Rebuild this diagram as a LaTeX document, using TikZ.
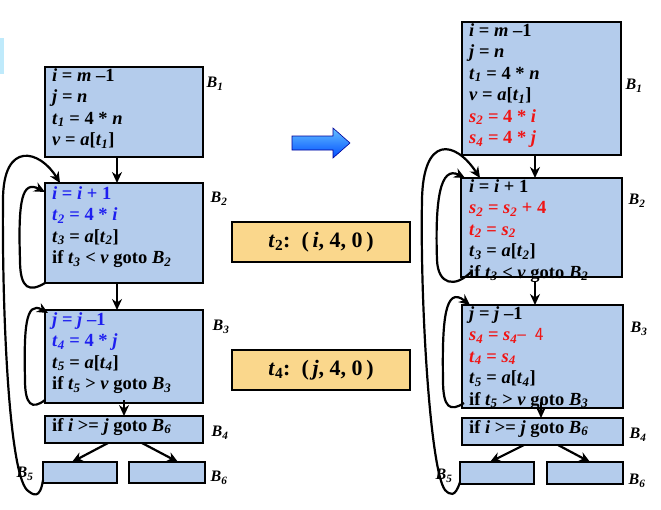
\documentclass[tikz,border=0pt]{standalone}
\usepackage{fontspec}
\setmainfont{Liberation Serif}
\usetikzlibrary{arrows.meta}
\newcommand\iv[1]{\textit{#1}}
\newcommand\ssub[1]{\textsubscript{\textit{#1}}}
\definecolor{boxblue}{RGB}{180,204,236}
\definecolor{ylw}{RGB}{250,215,140}
\definecolor{tblue}{RGB}{30,30,240}
\definecolor{tred}{RGB}{240,20,20}
\begin{document}
\begin{tikzpicture}[x=1pt,y=-1pt,
  blk/.style={draw,line width=2.6pt,fill=boxblue},
  txt/.style={anchor=north west,font=\bfseries\fontsize{18.5}{21.5}\selectfont,align=left,inner sep=0pt},
  lab/.style={font=\bfseries\itshape\fontsize{16}{17}\selectfont,inner sep=0pt},
  arr/.style={line width=2.2pt,-{Stealth[length=11pt,width=10pt]}},
  yb/.style={draw,line width=1.2pt,fill=ylw,font=\bfseries\fontsize{22}{24}\selectfont}]
\useasboundingbox (0,0) rectangle (661,509);
\fill[cyan!25] (0,38) rectangle (4,74);
% ---------- left ----------
\draw[blk] (45,67) rectangle (203,157);
\node[txt] (l1) at (52,68) {\iv{i} = \iv{m} –1\\\iv{j} = \iv{n}\\\iv{t}\ssub{1} = 4 * \iv{n}\\\iv{v} = \iv{a}[\iv{t}\ssub{1}]};
\draw[blk] (45,183) rectangle (203,283);
\node[txt] (l2) at (52,186) {\color{tblue}\iv{i} = \iv{i} + 1\\\color{tblue}\iv{t}\ssub{2} = 4 * \iv{i}\\\iv{t}\ssub{3} = \iv{a}[\iv{t}\ssub{2}]\\if \iv{t}\ssub{3} < \iv{v} goto \iv{B}\ssub{2}};
\draw[blk] (45,310) rectangle (203,403);
\node[txt] (l3) at (52,312) {\color{tblue}\iv{j} = \iv{j} –1\\\color{tblue}\iv{t}\ssub{4} = 4 * \iv{j}\\\iv{t}\ssub{5} = \iv{a}[\iv{t}\ssub{4}]\\if \iv{t}\ssub{5} > \iv{v} goto \iv{B}\ssub{3}};
\draw[blk] (45,416) rectangle (203,443);
\node[txt] (l4) at (52,418) {if \iv{i} >= \iv{j} goto \iv{B}\ssub{6}};
\draw[blk] (43,462) rectangle (117,483);
\draw[blk] (129,462) rectangle (205,483);
\node[lab] (lb1) at (215,84) {B\textsubscript{1}};
\node[lab] (lb2) at (219,199) {B\textsubscript{2}};
\node[lab] (lb3) at (221,327) {B\textsubscript{3}};
\node[lab] (lb4) at (220,433) {B\textsubscript{4}};
\node[lab] (lb5) at (25,474) {B\textsubscript{5}};
\node[lab] (lb6) at (219,478) {B\textsubscript{6}};
\draw[arr] (117,157) -- (117,183);
\draw[arr] (117,283) -- (117,310);
\draw[arr] (124,400) -- (124,416);
\draw[arr] (108,443) -- (72,462);
\draw[arr] (142,443) -- (178,462);
\draw[arr] (43,480) .. controls (40,500) and (33,495) .. (27,490) .. controls (8,470) and (2,300) .. (3,200) .. controls (3,140) and (40,150) .. (60,183);
\draw[arr] (45,283) .. controls (30,292) and (20,290) .. (20,260) .. controls (18,200) and (22,180) .. (45,192);
\draw[arr] (45,400) .. controls (32,410) and (25,405) .. (25,380) .. controls (24,330) and (25,300) .. (48,313);
% ---------- middle ----------
\node[yb,minimum width=178pt,minimum height=40pt] (y1) at (321,242) {\iv{t}\textsubscript{2}:\enspace(\,\iv{i}, 4, 0\,)};
\node[yb,minimum width=178pt,minimum height=40pt] (y2) at (321,370) {\iv{t}\textsubscript{4}:\enspace(\,\iv{j}, 4, 0\,)};
\shade[top color=cyan!60!blue!60,bottom color=blue!70!cyan,draw=blue!60!black,line width=0.6pt]
  (292,136) -- (333,136) -- (333,128) -- (350,143) -- (333,158) -- (333,150) -- (292,150) -- cycle;
% ---------- right ----------
\draw[blk] (462,22) rectangle (621,155);
\node[txt] (r1) at (469,23) {\iv{i} = \iv{m} –1\\\iv{j} = \iv{n}\\\iv{t}\ssub{1} = 4 * \iv{n}\\\iv{v} = \iv{a}[\iv{t}\ssub{1}]\\\color{tred}\iv{s}\ssub{2} = 4 * \iv{i}\\\color{tred}\iv{s}\ssub{4} = 4 * \iv{j}};
\draw[blk] (461,178) rectangle (622,277);
\node[txt] (r2) at (469,179) {\iv{i} = \iv{i} + 1\\\color{tred}\iv{s}\ssub{2} = \iv{s}\ssub{2} + 4\\\color{tred}\iv{t}\ssub{2} = \iv{s}\ssub{2}\\\iv{t}\ssub{3} = \iv{a}[\iv{t}\ssub{2}]\\if \iv{t}\ssub{3} < \iv{v} goto \iv{B}\ssub{2}};
\draw[blk] (462,305) rectangle (623,408);
\node[txt] (r3) at (469,306) {\iv{j} = \iv{j} –1\\\color{tred}\iv{s}\ssub{4} = \iv{s}\ssub{4}{\mdseries\sffamily – \,4}\\\color{tred}\iv{t}\ssub{4} = \iv{s}\ssub{4}\\\iv{t}\ssub{5} = \iv{a}[\iv{t}\ssub{4}]\\if \iv{t}\ssub{5} > \iv{v} goto \iv{B}\ssub{3}};
\draw[blk] (462,418) rectangle (623,445);
\node[txt] (r4) at (469,420) {if \iv{i} >= \iv{j} goto \iv{B}\ssub{6}};
\draw[blk] (460,462) rectangle (534,484);
\draw[blk] (547,462) rectangle (623,484);
\node[lab] (rb1) at (634,86) {B\textsubscript{1}};
\node[lab] (rb2) at (637,201) {B\textsubscript{2}};
\node[lab] (rb3) at (639,329) {B\textsubscript{3}};
\node[lab] (rb4) at (638,435) {B\textsubscript{4}};
\node[lab] (rb5) at (444,476) {B\textsubscript{5}};
\node[lab] (rb6) at (637,481) {B\textsubscript{6}};
\draw[arr] (535,155) -- (535,178);
\draw[arr] (535,281) -- (535,305);
\draw[arr] (541,402) -- (541,418);
\draw[arr] (524,445) -- (490,462);
\draw[arr] (558,445) -- (590,462);
\draw[arr] (460,482) .. controls (455,498) and (450,495) .. (445,490) .. controls (430,470) and (420,300) .. (422,200) .. controls (423,135) and (455,140) .. (480,178);
\draw[arr] (471,272) .. controls (455,288) and (438,285) .. (437,260) .. controls (435,200) and (440,165) .. (465,178);
\draw[arr] (464,403) .. controls (450,412) and (443,408) .. (443,380) .. controls (442,320) and (445,285) .. (470,305);
\end{tikzpicture}
\end{document}
